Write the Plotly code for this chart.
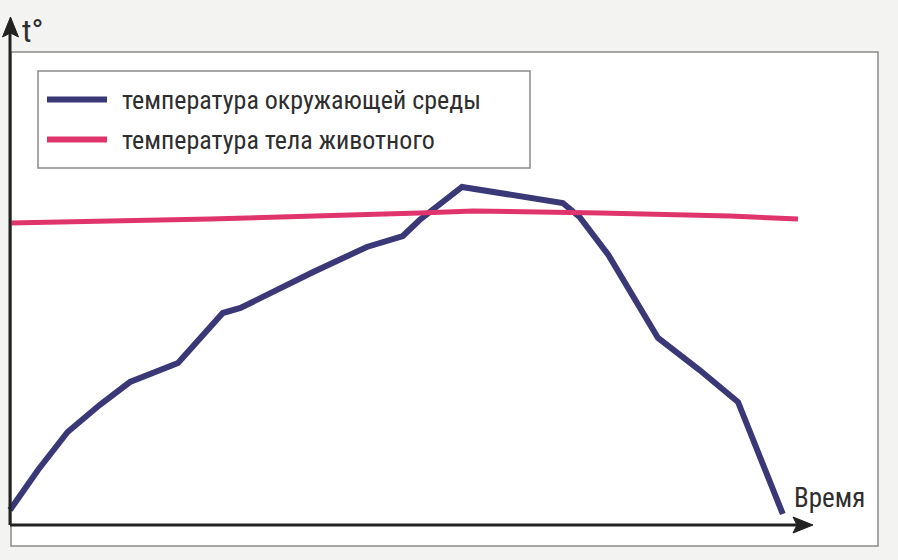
import plotly.graph_objects as go

# ---- data (time, temperature in arbitrary units) ----
env_time = [0, 3.5, 7.2, 11.2, 15, 21, 26.6, 28.8, 37.9, 44.6, 49.1, 51.2, 56.5, 69.1, 71.2, 74.8, 81, 86.2, 91, 96.6]
env_temp = [3, 11, 18.6, 24, 28.6, 32.4, 42.4, 43.4, 50.6, 55.6, 57.8, 61, 67.6, 64.4, 61.6, 54, 37.4, 31, 24.6, 2.2]
body_time = [0, 25, 51.2, 57.9, 73.8, 90, 98.5]
body_temp = [60.4, 61.2, 62.4, 62.8, 62.4, 61.8, 61.2]

series_names = ["температура окружающей среды", "температура тела животного"]
x_label = "Время"
y_label = "t°"

BLUE = "#3a3877"
PINK = "#e0356c"
W, H = 898, 560

def px(x):
    return x / W

def py(y):
    return 1 - y / H

fig = go.Figure()
fig.add_trace(go.Scatter(x=env_time, y=env_temp, mode="lines",
                         line=dict(color=BLUE, width=6), name=series_names[0],
                         showlegend=False))
fig.add_trace(go.Scatter(x=body_time, y=body_temp, mode="lines",
                         line=dict(color=PINK, width=5), name=series_names[1],
                         showlegend=False))

shapes = []
# outer frame (white panel)
shapes.append(dict(type="rect", xref="paper", yref="paper", layer="below",
                   x0=px(11), x1=px(878), y0=py(546), y1=py(52),
                   line=dict(color="#8a8a8a", width=1.5), fillcolor="white"))
# legend box
shapes.append(dict(type="rect", xref="paper", yref="paper",
                   x0=px(38), x1=px(530), y0=py(168), y1=py(71),
                   line=dict(color="#8a8a8a", width=1.5), fillcolor="white"))
shapes.append(dict(type="line", xref="paper", yref="paper",
                   x0=px(47), x1=px(107), y0=py(99.5), y1=py(99.5),
                   line=dict(color=BLUE, width=6)))
shapes.append(dict(type="line", xref="paper", yref="paper",
                   x0=px(47), x1=px(107), y0=py(139.5), y1=py(139.5),
                   line=dict(color=PINK, width=6)))
# axes
shapes.append(dict(type="line", xref="x", yref="y", x0=0, x1=98.5, y0=0, y1=0,
                   line=dict(color="#222", width=3)))
shapes.append(dict(type="line", xref="x", yref="y", x0=0, x1=0, y0=0, y1=99,
                   line=dict(color="#222", width=3)))
# arrow heads
shapes.append(dict(type="path", xref="paper", yref="paper",
                   path=f"M {px(813)} {py(525)} L {px(793)} {py(517)} L {px(797)} {py(525)} L {px(793)} {py(533)} Z",
                   fillcolor="#222", line=dict(color="#222", width=1)))
shapes.append(dict(type="path", xref="paper", yref="paper",
                   path=f"M {px(10.5)} {py(17)} L {px(2.5)} {py(37)} L {px(10.5)} {py(33)} L {px(18.5)} {py(37)} Z",
                   fillcolor="#222", line=dict(color="#222", width=1)))

FONT = "Liberation Sans Narrow, Roboto Condensed, Arial Narrow, sans-serif"
annotations = [
    dict(xref="paper", yref="paper", x=px(120), y=py(100), xanchor="left", yanchor="middle",
         text=series_names[0], showarrow=False, font=dict(family=FONT, size=26, color="#2e2e2e")),
    dict(xref="paper", yref="paper", x=px(120), y=py(140), xanchor="left", yanchor="middle",
         text=series_names[1], showarrow=False, font=dict(family=FONT, size=26, color="#2e2e2e")),
    dict(xref="paper", yref="paper", x=px(20), y=py(31), xanchor="left", yanchor="middle",
         text=y_label, showarrow=False, font=dict(family=FONT, size=32, color="#2e2e2e")),
    dict(xref="paper", yref="paper", x=px(792), y=py(498), xanchor="left", yanchor="middle",
         text=x_label, showarrow=False, font=dict(family=FONT, size=27, color="#2e2e2e")),
]

fig.update_layout(
    width=W, height=H, autosize=False,
    margin=dict(l=0, r=0, t=0, b=0),
    paper_bgcolor="#f3f3f1", plot_bgcolor="rgba(0,0,0,0)",
    xaxis=dict(range=[-10 / 8, (W - 10) / 8], visible=False, fixedrange=True),
    yaxis=dict(range=[(525 - H) / 5, 525 / 5], visible=False, fixedrange=True),
    shapes=shapes, annotations=annotations, showlegend=False,
)

fig.write_html(
    "out.html",
    config={"displayModeBar": False},
    post_script="document.body.style.margin='0';document.body.style.overflow='hidden';",
)
